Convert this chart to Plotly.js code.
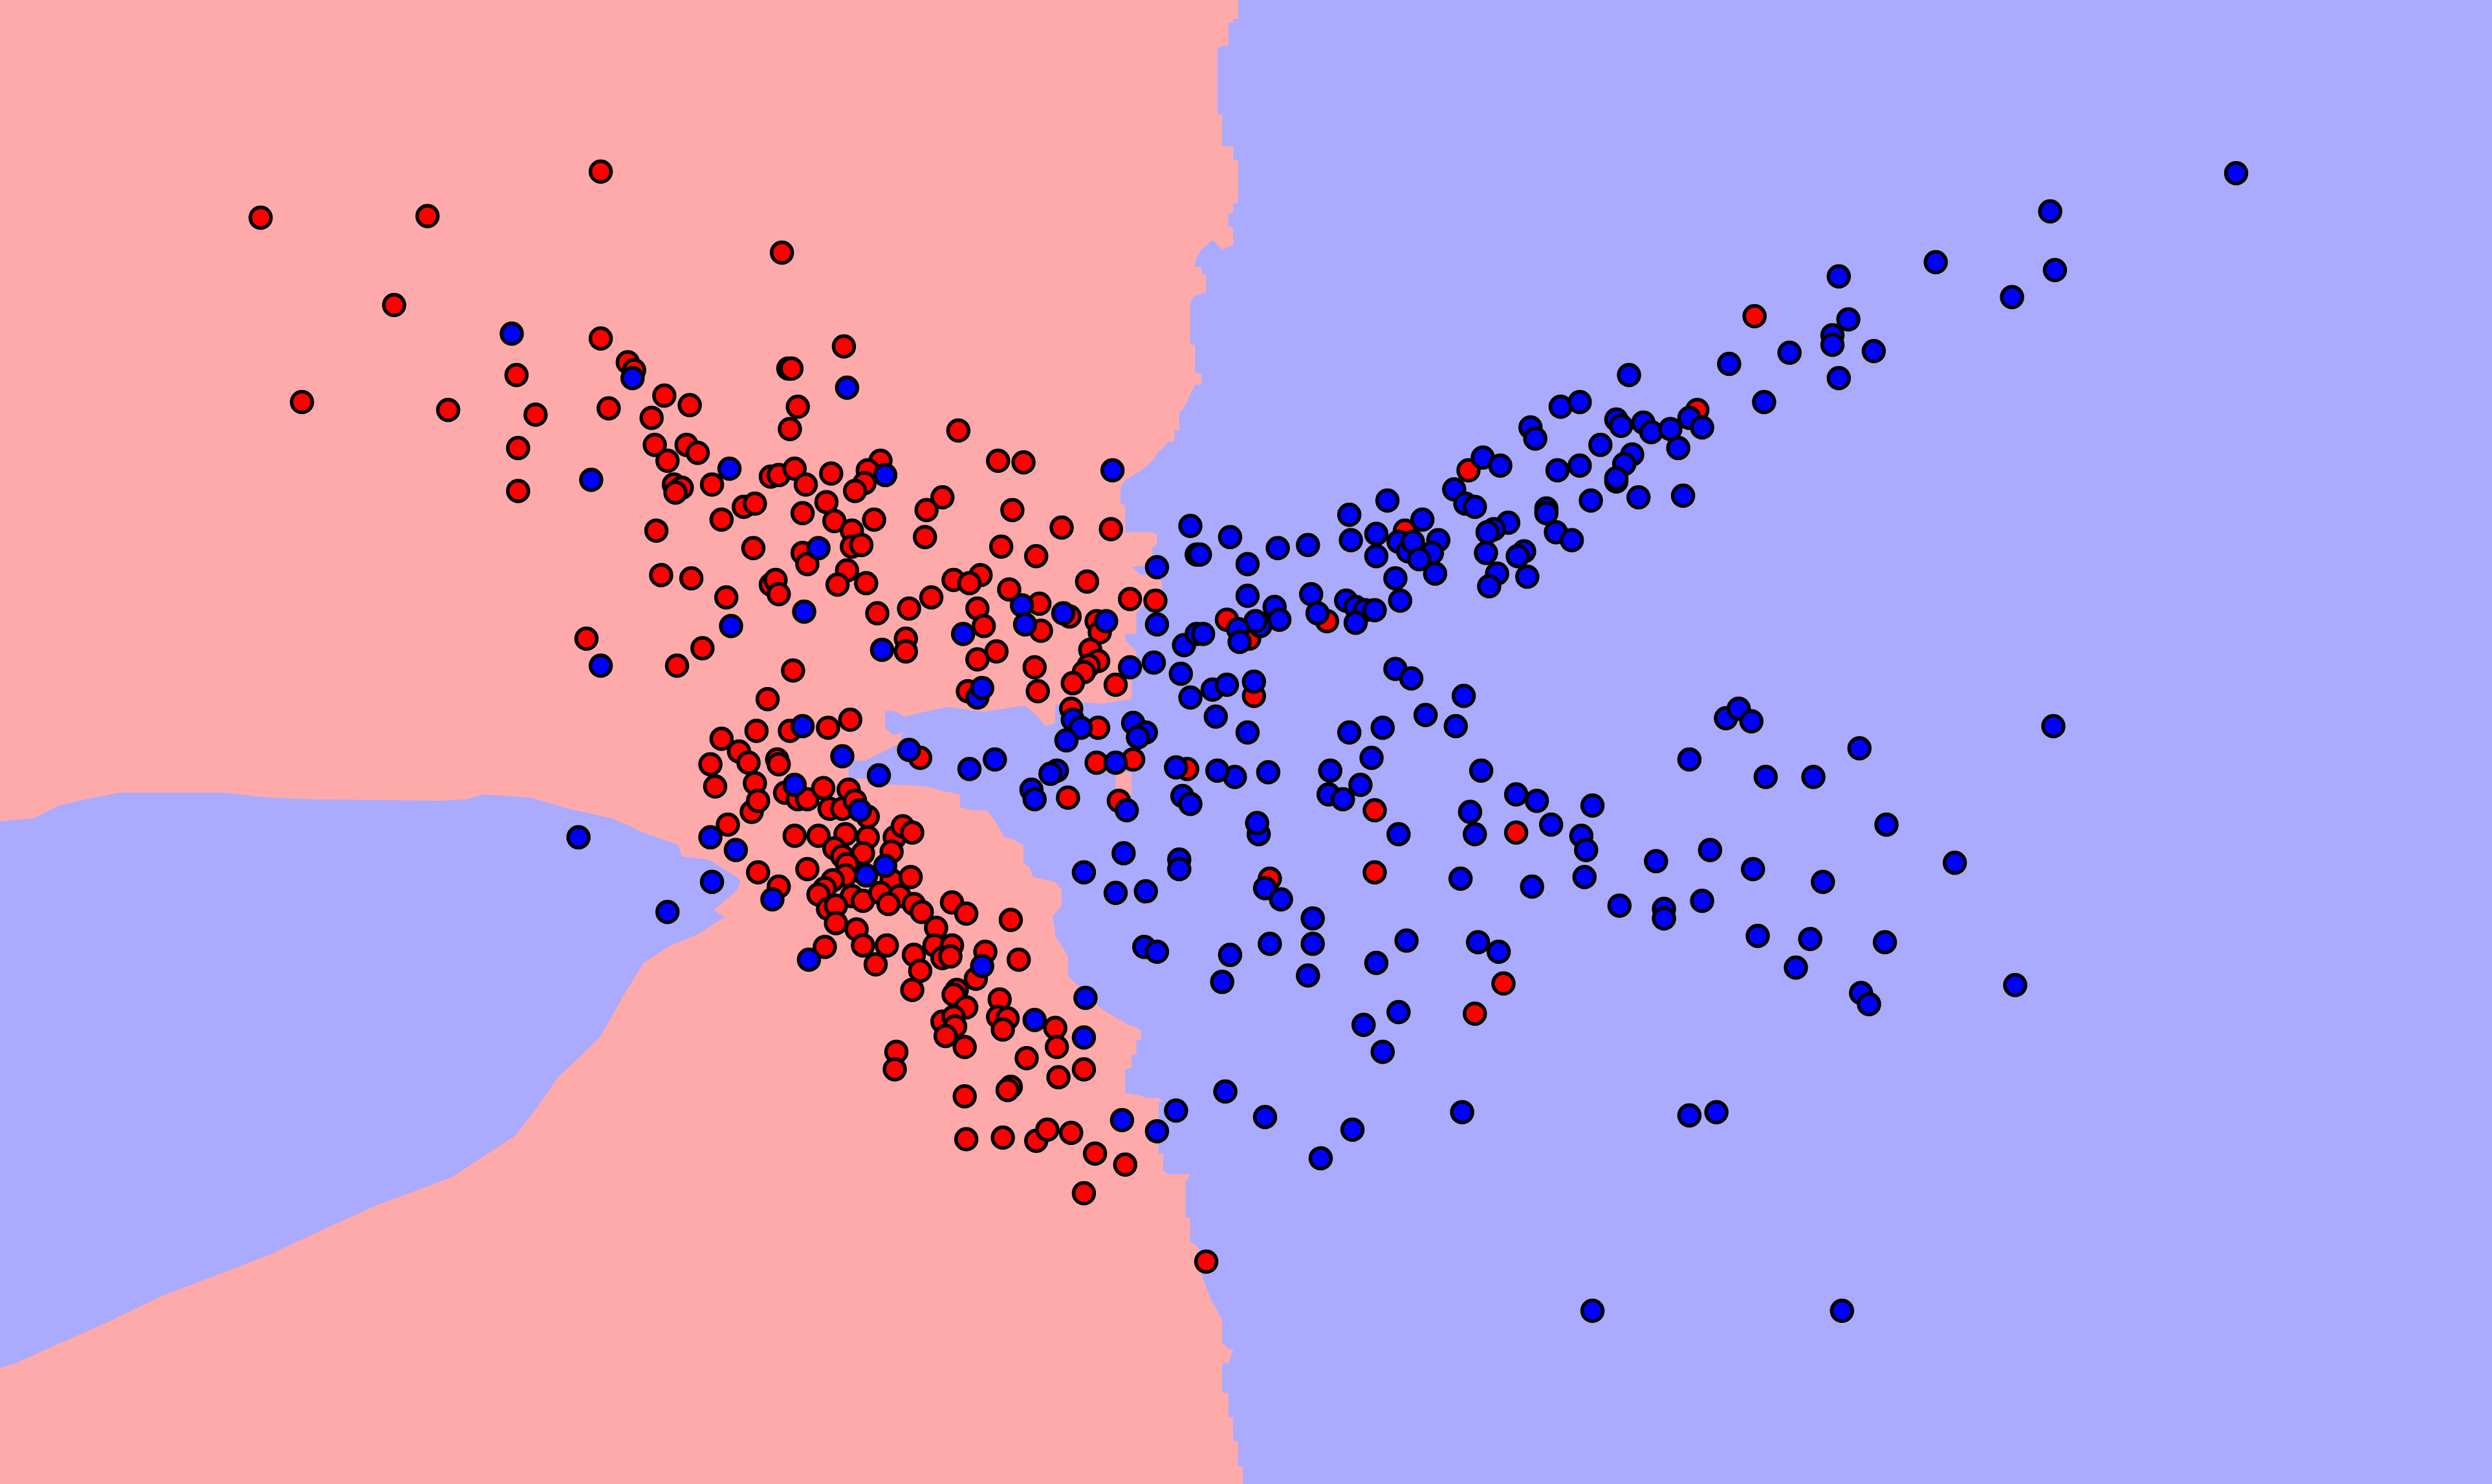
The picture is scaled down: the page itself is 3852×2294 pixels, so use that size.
<!DOCTYPE html>
<html>
<head>
<meta charset="utf-8">
<script src="https://cdn.plot.ly/plotly-3.0.1.min.js"></script>
<style>html,body{margin:0;padding:0;overflow:hidden;background:#FFAAAA}</style>
</head>
<body>
<div id="chart" style="width:3852px;height:2294px"></div>
<script>
// Class 0 (red) samples: [feature1, feature2]
const redPoints = [
[378,108],[164,137],[269,136],[492,159],[248,192],[378,213],[395,228],[399,233],[325,236],[190,253],
[282,258],[337,261],[383,257],[418,249],[434,255],[410,263],[412,280],[420,290],[432,280],[439,285],
[496,232],[498,232],[502,256],[497,270],[326,282],[326,309],[424,305],[429,307],[425,310],[448,305],
[468,319],[475,317],[454,327],[413,334],[474,345],[485,300],[490,299],[500,295],[507,305],[505,323],
[505,348],[508,355],[416,362],[435,364],[457,376],[485,368],[488,365],[490,374],[369,402],[426,419],
[442,408],[499,422],[483,440],
[531,218],[603,271],[628,290],[644,291],[554,290],[546,296],[544,304],[538,309],[523,298],[520,316],
[525,328],[536,334],[536,344],[542,343],[550,327],[533,359],[527,368],[545,367],[593,313],[583,321],
[582,338],[637,321],[668,332],[699,333],[630,344],[652,350],[684,366],[600,365],[617,362],[610,367],
[635,371],[654,380],[655,397],[615,383],[619,394],[586,376],[572,383],[552,386],[673,388],[690,391],
[692,398],[711,377],[727,378],[702,431],[686,409],[691,416],[685,419],[682,423],[675,430],[651,420],
[653,435],[627,410],[615,415],[609,435],[570,402],[570,410],[674,446],[691,458],[713,478],[690,480],
[579,477],[535,453],[521,458],[497,460],[476,460],[454,465],[465,473],[471,480],[447,481],[489,478],
[490,481],[747,484],
[450,495],[458,519],[477,549],[490,558],[519,596],[475,493],[473,511],[477,504],[494,499],[502,503],
[508,503],[518,496],[522,509],[530,509],[534,497],[538,504],[546,514],[500,526],[515,526],[532,525],
[546,527],[563,527],[568,520],[574,524],[525,534],[530,539],[543,537],[561,536],[533,544],[508,547],
[532,551],[561,554],[573,552],[524,554],[519,559],[515,563],[536,564],[543,567],[554,562],[566,564],
[559,569],[521,572],[526,570],[575,569],[580,574],[526,581],[539,585],[543,595],[558,595],[551,607],
[589,584],[599,568],[608,575],[636,579],[588,595],[599,595],[593,603],[598,602],[575,601],[579,611],
[574,623],[620,599],[614,616],[641,604],[602,623],[600,626],[608,634],[629,629],[628,640],[634,641],
[631,648],[593,643],[600,640],[601,646],[595,652],[607,659],[664,647],[665,659],[646,666],[682,673],
[666,678],[636,684],[634,686],[564,662],[563,673],[607,690],[608,717],[631,716],[652,718],[659,711],
[674,713],[689,726],[708,733],[682,751],[704,504],[672,502],[759,794],
[1104,199],[1068,258],[924,296],[884,334],[772,390],[786,402],[835,391],[789,438],[865,510],[954,524],
[799,553],[865,549],[946,619],[928,638]
];

// Class 1 (blue) samples: [feature1, feature2]
const bluePoints = [
[322,210],[398,238],[372,302],[459,295],[506,385],[460,394],[378,419],
[533,244],[700,296],[557,299],[515,345],[749,331],[753,349],[728,357],[643,381],[645,393],[606,399],
[669,386],[696,391],[728,393],[745,406],[753,399],[726,417],[743,424],[749,439],[711,420],[615,439],
[618,433],[555,409],[675,453],[680,458],[671,466],[713,455],[721,461],[716,464],[702,480],[740,483],
[665,485],[661,487],[610,484],[626,478],[572,472],[530,476],[505,457],[553,488],
[649,497],[651,503],[709,510],[744,501],[749,506],[707,537],[742,541],[742,547],[682,549],[702,562],
[721,561],[720,596],[728,599],[683,628],[682,653],[651,642],[740,699],[706,705],[728,712],[500,494],
[447,527],[463,535],[448,555],[420,574],[486,566],[509,604],[541,510],[557,545],[545,551],[618,608],
[1088,229],[1110,253],[1025,236],[982,256],[994,253],[1017,264],[1020,268],[1034,266],[1039,272],[1051,270],
[1063,263],[1071,269],[963,269],[966,276],[1007,280],[1027,286],[1022,292],[1017,303],[1017,301],[1056,282],
[980,296],[994,293],[1031,313],[1059,312],[1001,315],[933,288],[944,293],[915,308],[922,317],[928,319],
[973,320],[973,323],[979,335],[989,340],[949,329],[940,333],[936,335],[959,347],[955,350],[935,348],
[961,363],[942,361],[937,369],[873,315],[849,324],[850,340],[866,336],[895,327],[880,341],[886,347],
[889,341],[905,340],[901,348],[893,352],[903,361],[866,350],[878,364],[881,378],[774,338],[755,349],
[785,355],[804,345],[823,343],[785,375],[802,382],[805,390],[793,394],[790,391],[779,396],[780,404],
[757,399],[825,374],[829,386],[847,378],[853,382],[859,384],[865,384],[853,392],[763,434],[772,431],
[789,429],[765,451],[785,461],[878,421],[888,427],[921,438],[897,450],[916,457],[870,458],[849,461],
[1086,452],[1094,446],[1102,454],
[798,486],[777,489],[766,485],[837,485],[863,477],[856,494],[836,500],[845,503],[880,525],[932,485],
[954,500],[967,504],[1002,507],[925,511],[928,525],[976,519],[995,526],[998,535],[1063,478],[1042,542],
[1076,535],[919,553],[964,558],[997,552],[1019,570],[1047,572],[1047,578],[1071,567],[792,525],[791,518],
[796,559],[806,566],[826,578],[826,594],[799,594],[823,614],[774,601],[769,618],[885,592],[866,606],
[930,593],[943,599],[880,637],[858,645],[870,662],[771,687],[796,703],[851,711],[831,729],[920,700],
[1063,702],[1080,700],
[1407,109],[1290,133],[1293,170],[1218,165],[1266,187],[1157,174],[1163,201],[1153,211],[1153,217],[1179,221],
[1157,238],[1126,222],
[1111,489],[1141,489],[1170,471],[1292,457],[1187,519],[1230,543],[1103,547],[1147,555],[1106,589],[1139,591],
[1186,593],[1130,609],[1171,625],[1176,632],[1268,620],[1159,825],[364,527],[1002,825]
];

// Decision region of class 1 (right part incl. channel), boundary traced top -> bottom
const regionRight = [
[779,0],[779,12],[776,12],[776,14],[773,14],[773,28],[766,30],[766,72],[769,72],[769,92],
[776,92],[776,101],[779,101],[779,128],[776,128],[776,134],[773,134],[773,143],[776,143],[776,154],
[769,157],[763,151],[756,157],[752,164],[752,168],[756,168],[756,172],[759,173],[759,184],[752,186],
[749,190],[749,217],[752,217],[752,235],[756,235],[756,242],[752,242],[749,248],[746,255],[742,260],
[742,271],[739,271],[739,278],[735,278],[732,282],[729,284],[726,289],[722,293],[718,296],[715,298],
[712,300],[708,302],[705,307],[705,317],[708,318],[708,335],[718,335],[725,335],[728,336],[728,342],
[725,345],[725,355],[712,357],[718,362],[725,362],[731,366],[731,378],[718,382],[715,386],[715,399],
[708,399],[708,403],[715,410],[715,414],[712,416],[712,440],[692,443],[672,441],[664,444],[664,455],
[658,457],[652,450],[645,444],[625,447],[619,448],[597,445],[586,447],[569,451],[564,448],[557,447],
[557,458],[562,463],[568,461],[566,468],[562,470],[544,479],[534,478],[534,490],[546,490],[546,494],
[570,494],[584,495],[594,498],[604,500],[604,508],[612,510],[621,510],[624,514],[627,518],[632,527],
[637,528],[644,532],[644,543],[648,546],[650,552],[664,555],[668,560],[668,570],[662,577],[664,585],
[664,589],[671,600],[672,602],[672,614],[676,618],[680,622],[686,628],[692,634],[698,638],[703,641],
[710,645],[716,647],[718,649],[718,654],[715,655],[715,664],[712,664],[712,672],[708,673],[708,688],
[715,689],[722,691],[729,691],[732,693],[729,694],[729,726],[732,726],[732,737],[736,739],[749,739],
[746,744],[746,766],[749,767],[749,782],[752,783],[756,788],[756,802],[759,810],[762,818],[766,825],
[769,831],[769,845],[773,849],[776,849],[773,858],[769,858],[769,876],[773,877],[773,892],[776,892],
[776,907],[779,907],[779,923],[782,923],[782,934],[1568,934],[1568,0]
];

// Decision region of class 1 (lower-left wedge)
const regionLeft = [
[0,517],[21,515],[37,507],[54,503],[75,499],[142,499],[169,502],[196,503],[277,504],[294,503],
[304,500],[334,502],[358,509],[385,515],[405,524],[427,532],[429,539],[446,541],[459,549],[466,554],
[464,560],[449,573],[456,577],[439,588],[422,595],[405,606],[392,627],[378,652],[365,665],[351,678],
[338,697],[324,715],[304,728],[284,741],[263,749],[236,759],[203,774],[169,790],[135,803],[101,816],
[68,832],[34,847],[10,858],[0,861]
];

// Small class-0 pocket inside class-1 region
const pocketRed = [[702,486],[712,486],[712,500],[708,503],[702,501]];

const PINK = '#FFAAAA', LBLUE = '#AAAAFF';

function region(pts, color) {
  return {
    type: 'scatter', mode: 'lines', fill: 'toself',
    x: pts.map(p => p[0]), y: pts.map(p => p[1]),
    fillcolor: color, line: {width: 0, color: color},
    hoverinfo: 'skip', showlegend: false
  };
}
function points(pts, color) {
  return {
    type: 'scatter', mode: 'markers',
    x: pts.map(p => p[0]), y: pts.map(p => p[1]),
    marker: {size: 32, color: color, line: {color: '#000000', width: 5.5}},
    showlegend: false
  };
}

const data = [
  region(regionRight, LBLUE),
  region(regionLeft, LBLUE),
  region(pocketRed, PINK),
  points(redPoints, '#FF0000'),
  points(bluePoints, '#0000FF')
];

const layout = {
  width: 3852, height: 2294,
  margin: {l: 0, r: 0, t: 0, b: 0, pad: 0},
  paper_bgcolor: PINK, plot_bgcolor: PINK,
  xaxis: {range: [0, 1568], visible: false, fixedrange: true},
  yaxis: {range: [934, 0], visible: false, fixedrange: true},
  showlegend: false
};

Plotly.newPlot('chart', data, layout, {staticPlot: true});
</script>
</body>
</html>
